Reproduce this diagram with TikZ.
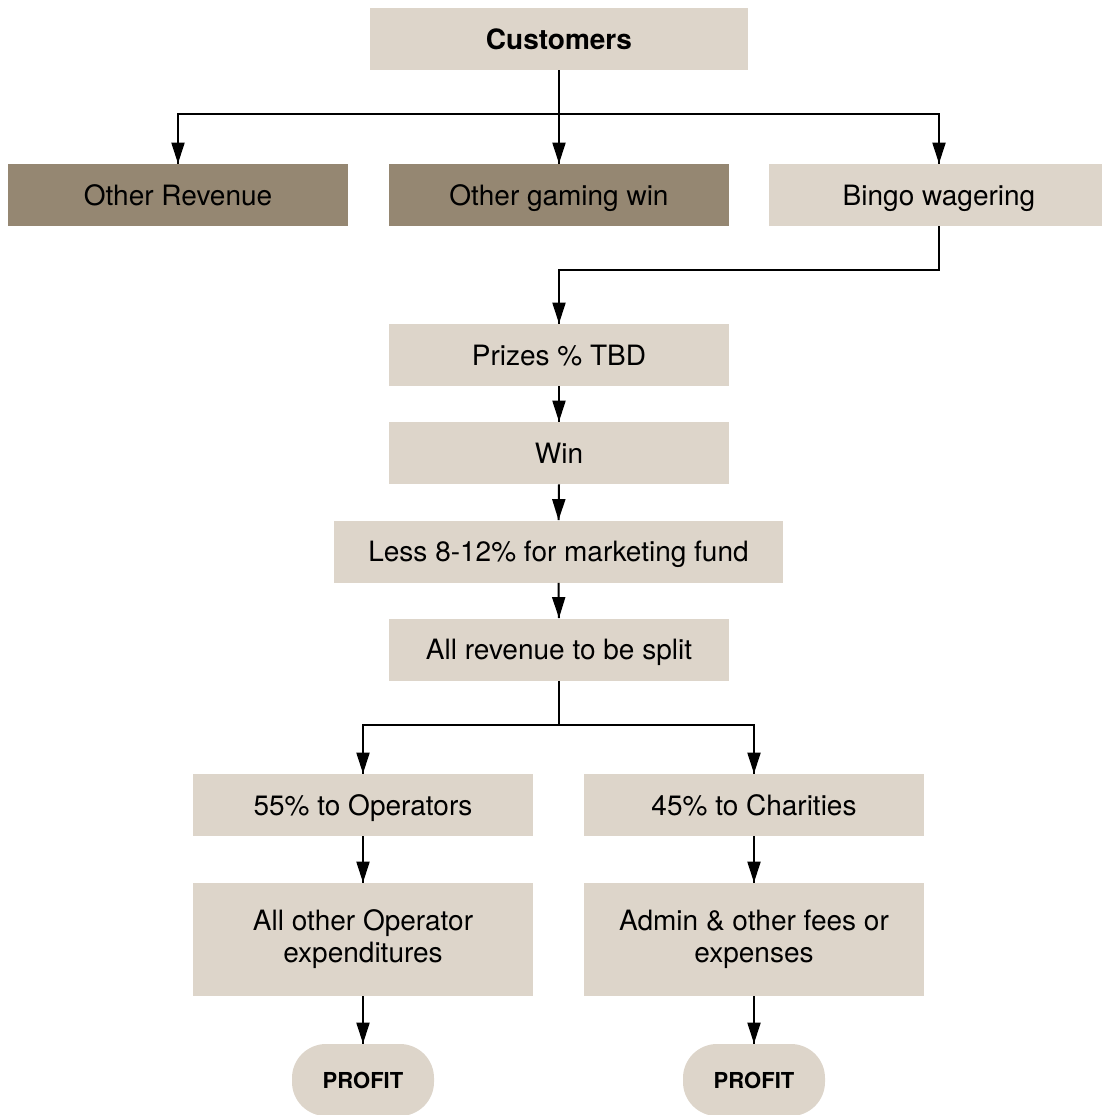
\documentclass[tikz,border=0pt]{standalone}
\usepackage{fontspec}
\setmainfont{TeX Gyre Heros}
\usepackage{tikz}
\usetikzlibrary{arrows,arrows.meta,decorations.markings}
\definecolor{sand}{RGB}{221,213,202}
\definecolor{umber}{RGB}{149,135,114}
\tikzset{
    box/.style={fill=sand,minimum width=170pt,minimum height=31pt,inner sep=0pt,align=center,font=\fontsize{14}{16}\selectfont},
    line/.style={box,text height=10pt,text depth=0pt},
    darkbox/.style={line,fill=umber},
    pill/.style={fill=sand,rounded corners=17pt,minimum width=71pt,minimum height=36pt,inner sep=0pt,text height=8pt,text depth=0pt,font=\fontsize{11}{12}\selectfont\bfseries},
    flow/.style={line width=1pt,decoration={markings,mark=at position 1 with
    {\arrow{Triangle[length=10.5pt,width=6.5pt]}}},postaction={decorate}}
}

\begin{document}
\begin{tikzpicture}[x=0.5pt,y=-0.5pt]
\useasboundingbox (0,0) rectangle (1102,1115);

\node[line,minimum width=189pt,font=\fontsize{14}{16}\selectfont\bfseries] (cust) at (559,39) {Customers};
\node[darkbox] (orev) at (178,195) {Other Revenue};
\node[darkbox] (ogw) at (559,195) {Other gaming win};
\node[line] (bingo) at (939,195) {Bingo wagering};
\node[line] (prizes) at (559,355) {Prizes \% TBD};
\node[line] (win) at (559,453) {Win};
\node[line,minimum width=224.5pt] (less) at (558.5,551.5) {Less 8-12\% for marketing fund};
\node[line] (split) at (559,649.5) {All revenue to be split};
\node[line] (oper) at (363,805) {55\% to Operators};
\node[line] (char) at (754,805) {45\% to Charities};
\node[box,minimum height=56.5pt] (opexp) at (363,939.5) {All other Operator\\expenditures};
\node[box,minimum height=56.5pt] (adm) at (754,939.5) {Admin \& other fees or\\expenses};
\node[pill] (prof1) at (363,1080) {PROFIT};
\node[pill] (prof2) at (754,1080) {PROFIT};

\coordinate (bus1) at (559,114);
\coordinate (bus2) at (559,270);
\coordinate (bus3) at (559,725);

\draw[flow] (cust.south) -- (bus1) -| (orev.north);
\draw[flow] (bus1) -| (bingo.north);
\draw[flow] (cust.south) -- (ogw.north);
\draw[flow] (bingo.south) |- (bus2) -- (prizes.north);
\foreach \a/\b in {prizes/win,win/less,less/split} {
    \draw[flow] (\a.south) -- (\b.north);
}
\draw[flow] (split.south) -- (bus3) -| (oper.north);
\draw[flow] (bus3) -| (char.north);
\foreach \a/\b in {oper/opexp,char/adm,opexp/prof1,adm/prof2} {
    \draw[flow] (\a.south) -- (\b.north);
}
\end{tikzpicture}
\end{document}
